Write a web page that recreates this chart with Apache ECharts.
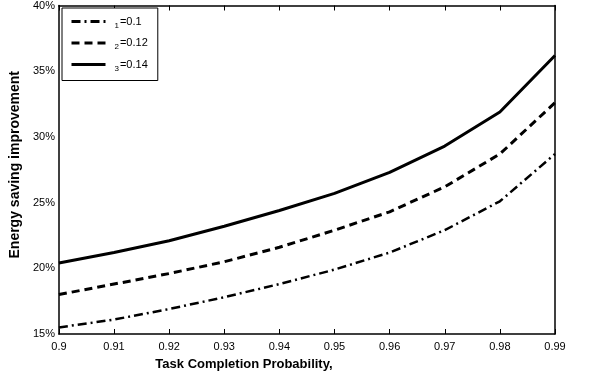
<!DOCTYPE html>
<html>
<head>
<meta charset="utf-8">
<script src="https://cdn.jsdelivr.net/npm/echarts@6/dist/echarts.min.js"></script>
<style>
  html, body { margin: 0; padding: 0; background: #fff; }
  #chart { width: 600px; height: 380px; }
</style>
</head>
<body>
<div id="chart"></div>
<script>
// x categories (task completion probability)
var probs = ['0.9', '0.91', '0.92', '0.93', '0.94', '0.95', '0.96', '0.97', '0.98', '0.99'];
// energy saving improvement, percent
var s1 = [15.5, 16.1, 16.9, 17.8, 18.8, 19.9, 21.2, 22.9, 25.1, 28.7];   // 0.1
var s2 = [18.0, 18.8, 19.6, 20.5, 21.6, 22.9, 24.3, 26.2, 28.7, 32.6];   // 0.12
var s3 = [20.4, 21.2, 22.1, 23.2, 24.4, 25.7, 27.3, 29.3, 31.9, 36.2];   // 0.14
var names = ['s1', 's2', 's3'];
var legendText = { s1: ['1', '=0.1'], s2: ['2', '=0.12'], s3: ['3', '=0.14'] };

var font = 'Liberation Sans, Arial, sans-serif';
var axisLine = { show: true, onZero: false, lineStyle: { color: '#000', width: 1.5 } };

var chart = echarts.init(document.getElementById('chart'));
chart.setOption({
  animation: false,
  backgroundColor: '#fff',
  grid: { left: 58, right: 45, top: 5, bottom: 46 },
  legend: {
    orient: 'vertical',
    left: 62, top: 8,
    data: names,
    itemWidth: 34, itemHeight: 12, itemGap: 8,
    padding: [8, 10, 8, 8],
    borderColor: '#000', borderWidth: 1,
    backgroundColor: '#fff',
    itemStyle: { opacity: 0 },
    lineStyle: { width: 3 },
    formatter: function (n) {
      return '{sub|' + legendText[n][0] + '}{main|' + legendText[n][1] + '}';
    },
    textStyle: {
      color: '#000', fontFamily: font,
      rich: {
        sub: { fontSize: 8, fontFamily: font, color: '#000', padding: [8, 1, 0, 4] },
        main: { fontSize: 11, fontFamily: font, color: '#000' }
      }
    }
  },
  xAxis: [{
    type: 'category', data: probs, boundaryGap: false,
    name: 'Task Completion Probability,', nameLocation: 'middle', nameGap: 24,
    nameTextStyle: { fontFamily: font, fontWeight: 'bold', fontSize: 13, color: '#000', padding: [0, 126, 0, 0] },
    axisLine: axisLine,
    axisTick: { inside: true, length: 5, lineStyle: { color: '#000' } },
    axisLabel: { color: '#000', fontFamily: font, fontSize: 11, margin: 7 },
    splitLine: { show: false }
  }, {
    type: 'category', data: probs, boundaryGap: false, position: 'top',
    axisLine: axisLine,
    axisTick: { inside: true, length: 5, lineStyle: { color: '#000' } },
    axisLabel: { show: false },
    splitLine: { show: false }
  }],
  yAxis: [{
    type: 'value', min: 15, max: 40, interval: 5,
    name: 'Energy saving improvement', nameLocation: 'middle', nameGap: 32,
    nameTextStyle: { fontFamily: font, fontWeight: 'bold', fontSize: 14, color: '#000', padding: [0, 0, 0, 10] },
    axisLine: axisLine,
    axisTick: { inside: true, length: 5, lineStyle: { color: '#000' } },
    axisLabel: { color: '#000', fontFamily: font, fontSize: 11, margin: 4, formatter: '{value}%' },
    splitLine: { show: false }
  }, {
    type: 'value', min: 15, max: 40, interval: 5, position: 'right',
    axisLine: axisLine,
    axisTick: { inside: true, length: 5, lineStyle: { color: '#000' } },
    axisLabel: { show: false },
    splitLine: { show: false }
  }],
  series: [{
    name: 's1', type: 'line', data: s1, symbol: 'none',
    lineStyle: { color: '#000', width: 2.5, type: [9, 4, 2, 4] }, itemStyle: { color: '#000' }
  }, {
    name: 's2', type: 'line', data: s2, symbol: 'none',
    lineStyle: { color: '#000', width: 3, type: [8, 5] }, itemStyle: { color: '#000' }
  }, {
    name: 's3', type: 'line', data: s3, symbol: 'none',
    lineStyle: { color: '#000', width: 3, type: 'solid' }, itemStyle: { color: '#000' }
  }]
});
</script>
</body>
</html>
